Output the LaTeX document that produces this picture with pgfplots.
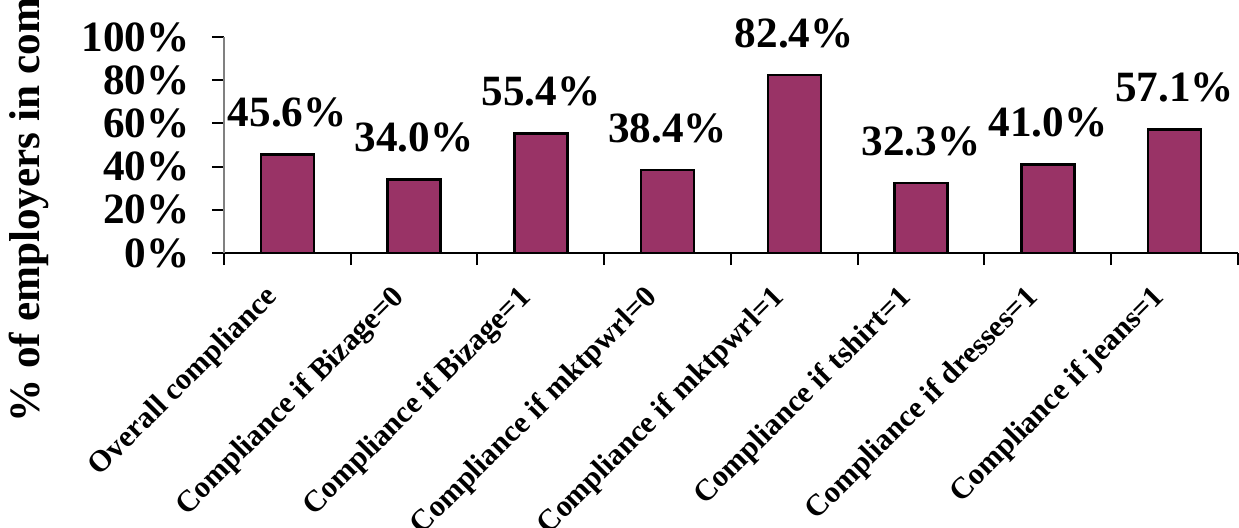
\documentclass[border=0pt]{standalone}
\usepackage{pgfplots}
\pgfplotsset{compat=1.18}
\usepackage{fontspec}
\setmainfont{Liberation Serif}
\definecolor{barplum}{RGB}{153,51,102}
\newcommand\bigfont{\fontsize{21.6}{24}\selectfont\bfseries}
\newcommand\catfont{\fontsize{15.2}{18}\selectfont\bfseries}
\begin{document}
\begin{tikzpicture}
\begin{axis}[
  at={(112pt,137pt)}, anchor=south west,
  scale only axis, width=507pt, height=108pt,
  xmin=-0.5, xmax=7.5, ymin=0, ymax=100,
  clip=false,
  axis x line*=bottom, axis y line*=left,
  x axis line style={black, line width=1pt},
  y axis line style={gray, line width=1pt},
  tick align=outside,
  major tick length=6pt,
  tick style={black, line width=1pt},
  /pgf/number format/assume math mode=true,
  ytick={0,20,40,60,80,100},
  yticklabels={0\%,20\%,40\%,60\%,80\%,100\%},
  yticklabel style={font=\bigfont, anchor=east, inner sep=0pt, xshift=-11pt},
  xtick={-0.5,0.5,...,7.5},
  xticklabels={},
  extra x ticks={0,1,2,3,4,5,6,7},
  extra x tick labels={Overall compliance, Compliance if Bizage=0, Compliance if Bizage=1,
    Compliance if mktpwrl=0, Compliance if mktpwrl=1, Compliance if tshirt=1,
    Compliance if dresses=1, Compliance if jeans=1},
  extra x tick style={tick style={draw=none},
    xticklabel style={font=\catfont, anchor=east, inner sep=0pt, xshift=-7pt, yshift=-14pt, rotate=45}},
  ybar, bar width=26.5pt,
  nodes near coords={\pgfmathprintnumber[fixed, fixed zerofill, precision=1]{\pgfplotspointmeta}\%},
  every node near coord/.append style={font=\bigfont, anchor=base, inner sep=0pt, yshift=14pt, black},
]
\addplot[fill=barplum, draw=black, line width=1.2pt] coordinates {
  (0,45.6) (1,34.0) (2,55.4) (3,38.4) (4,82.4) (5,32.3) (6,41.0) (7,57.1)
};
\end{axis}
\node[rotate=90, anchor=base west, font=\bigfont, inner sep=0pt] at (19.5pt,52pt) {\% of employers in compliance};
\pgfresetboundingbox
\path[use as bounding box] (0,0) rectangle (619.5pt,263.5pt);
\end{tikzpicture}
\end{document}
